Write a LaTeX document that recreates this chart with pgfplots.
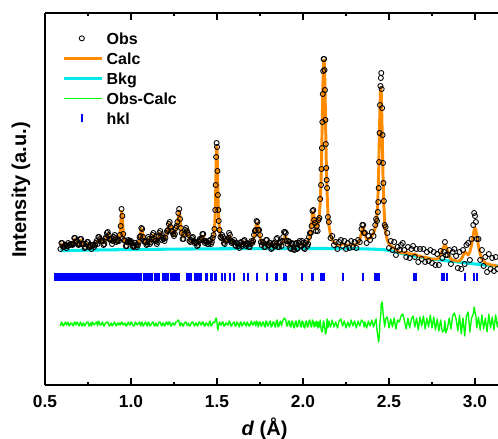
\documentclass[border=0pt]{standalone}
\usepackage{pgfplots}
\usepackage{pgfplotstable}
\pgfplotsset{compat=1.18}
\usepackage{fontspec}
\setmainfont{Liberation Sans}

\definecolor{calcorange}{RGB}{255,140,0}
\definecolor{bkgcyan}{RGB}{0,235,235}
\definecolor{diffgreen}{RGB}{0,255,0}
\definecolor{hklblue}{RGB}{0,0,255}

% Rietveld refinement: observed, calculated and difference (offset) profiles
\pgfplotstableread{
d obs calc diff
0.59 136 138 59
0.595 142 140 63
0.60 142 141 62
0.605 138 140 59
0.61 138 139 60
0.615 139 138 62
0.62 140 138 63
0.625 137 138 60
0.63 139 139 61
0.635 142 140 63
0.64 140 142 59
0.645 140 141 60
0.65 141 140 62
0.655 141 140 62
0.66 140 141 60
0.665 141 143 59
0.67 147 145 63
0.675 147 146 62
0.68 143 144 60
0.685 144 142 63
0.69 141 140 62
0.695 140 141 60
0.70 141 143 59
0.705 146 144 63
0.71 146 145 62
0.715 141 143 59
0.72 141 141 61
0.725 141 140 62
0.73 137 139 59
0.735 138 139 60
0.74 141 140 62
0.745 143 141 63
0.75 143 141 63
0.755 138 140 59
0.76 138 139 60
0.765 139 138 62
0.77 136 138 59
0.775 140 138 63
0.78 140 139 62
0.785 138 139 60
0.79 140 140 61
0.795 142 141 62
0.80 144 142 63
0.805 141 143 59
0.81 148 145 64
0.815 148 146 63
0.82 146 147 60
0.825 144 145 60
0.83 144 143 62
0.835 144 142 63
0.84 140 142 59
0.845 141 143 59
0.85 146 145 62
0.855 148 147 62
0.86 152 150 63
0.865 153 151 63
0.87 150 151 60
0.875 146 148 59
0.88 145 145 61
0.885 145 144 62
0.89 141 143 59
0.895 144 145 60
0.90 148 147 62
0.905 150 148 63
0.91 147 148 60
0.915 143 145 59
0.92 144 143 62
0.925 145 144 62
0.93 144 145 60
0.935 150 149 62
0.94 159 160 60
0.945 176 174 63
0.95 169 168 62
0.955 151 152 60
0.96 145 145 61
0.965 144 143 62
0.97 139 141 59
0.975 139 141 59
0.98 143 142 62
0.985 145 143 63
0.99 144 145 60
0.995 143 144 60
1.00 144 142 63
1.005 142 141 62
1.01 139 140 60
1.015 138 140 59
1.02 139 141 59
1.025 142 140 63
1.03 140 139 62
1.035 138 139 60
1.04 140 140 61
1.045 143 142 62
1.05 148 146 63
1.055 149 151 59
1.06 157 156 62
1.065 156 154 63
1.07 148 150 59
1.075 144 145 60
1.08 143 142 62
1.085 143 141 63
1.09 140 141 60
1.095 141 143 59
1.10 148 146 63
1.105 146 145 62
1.11 141 143 59
1.115 143 144 60
1.12 146 146 61
1.125 150 148 63
1.13 152 150 63
1.135 146 148 59
1.14 144 145 60
1.145 144 143 62
1.15 141 143 59
1.155 143 145 59
1.16 149 148 62
1.165 152 150 63
1.17 154 152 63
1.175 149 150 60
1.18 145 147 59
1.185 147 146 62
1.19 146 145 62
1.195 144 146 59
1.20 147 148 60
1.205 152 150 63
1.21 154 153 62
1.215 155 156 60
1.22 161 159 63
1.225 163 161 63
1.23 158 160 59
1.235 154 156 59
1.24 153 152 62
1.245 151 150 62
1.25 149 150 60
1.255 151 152 60
1.26 157 155 63
1.265 159 157 63
1.27 163 160 64
1.275 172 168 65
1.28 176 174 63
1.285 166 168 59
1.29 157 156 62
1.295 152 151 62
1.30 146 148 59
1.305 146 148 59
1.31 151 150 62
1.315 155 153 63
1.32 157 155 63
1.325 154 155 60
1.33 152 153 60
1.335 150 149 62
1.34 144 146 59
1.345 143 145 59
1.35 145 144 62
1.355 147 145 63
1.36 148 146 63
1.365 144 145 60
1.37 142 144 59
1.375 143 142 62
1.38 142 141 62
1.385 139 141 59
1.39 140 141 60
1.395 144 142 63
1.40 146 144 63
1.405 145 146 60
1.41 147 148 60
1.415 151 149 63
1.42 151 149 63
1.425 144 146 59
1.43 142 144 59
1.435 144 143 62
1.44 143 142 62
1.445 141 142 60
1.45 141 143 59
1.455 144 142 63
1.46 145 142 64
1.465 141 143 59
1.47 143 144 60
1.475 147 146 62
1.48 150 148 63
1.485 156 155 62
1.49 175 172 64
1.4925 200 195 66
1.495 228 222 67
1.4975 242 238 65
1.50 238 236 63
1.5025 214 218 57
1.505 190 196 55
1.5075 175 178 58
1.51 164 165 60
1.515 155 153 63
1.52 148 149 60
1.525 147 148 60
1.53 150 148 63
1.535 148 146 63
1.54 142 144 59
1.545 141 143 59
1.55 144 143 62
1.555 145 144 62
1.56 145 146 60
1.565 147 148 60
1.57 152 149 64
1.575 150 148 63
1.58 144 146 59
1.585 142 144 59
1.59 143 142 62
1.595 143 142 62
1.60 145 143 63
1.605 140 142 59
1.61 139 141 59
1.615 142 140 63
1.62 141 140 62
1.625 139 140 60
1.63 137 140 58
1.635 142 140 63
1.64 143 141 63
1.645 139 141 59
1.65 141 142 60
1.655 144 143 62
1.66 145 143 63
1.665 141 142 60
1.67 139 141 59
1.675 142 140 63
1.68 141 140 62
1.685 138 140 59
1.69 138 140 59
1.695 141 140 62
1.70 144 141 64
1.705 142 143 60
1.71 144 145 60
1.715 150 148 63
1.72 154 152 63
1.725 155 157 59
1.73 164 161 64
1.735 163 162 62
1.74 155 158 58
1.745 155 153 63
1.75 150 148 63
1.755 143 145 59
1.76 140 142 59
1.765 143 141 63
1.77 142 140 63
1.775 138 140 59
1.78 138 141 58
1.785 145 142 64
1.79 145 143 63
1.795 140 142 59
1.80 140 141 60
1.805 142 140 63
1.81 142 139 64
1.815 136 139 58
1.82 137 139 59
1.825 141 139 63
1.83 142 140 63
1.835 139 141 59
1.84 139 142 58
1.845 146 143 64
1.85 147 143 65
1.855 138 141 58
1.86 138 140 59
1.865 142 140 63
1.87 143 140 64
1.875 139 141 59
1.88 144 142 63
1.885 148 144 65
1.89 153 147 67
1.895 153 148 66
1.90 152 148 65
1.905 144 146 59
1.91 141 143 59
1.915 144 141 64
1.92 143 140 64
1.925 137 139 59
1.93 136 139 58
1.935 142 139 64
1.94 141 139 63
1.945 136 139 58
1.95 135 139 57
1.955 141 139 63
1.96 142 139 64
1.965 136 139 58
1.97 137 139 59
1.975 142 139 64
1.98 144 140 65
1.985 139 141 59
1.99 139 142 58
1.995 144 141 64
2.00 142 140 63
2.005 137 140 58
2.01 136 140 57
2.015 142 140 63
2.02 144 141 64
2.025 139 142 58
2.03 141 143 59
2.035 148 145 64
2.04 152 148 65
2.045 152 154 59
2.05 159 162 58
2.055 174 170 65
2.06 175 173 63
2.065 165 168 58
2.07 162 160 63
2.075 154 156 59
2.08 159 156 64
2.085 154 158 57
2.09 165 163 63
2.095 167 170 58
2.10 186 182 65
2.105 200 205 56
2.1075 216 222 55
2.11 237 245 53
2.1125 263 270 54
2.115 291 295 57
2.1175 314 312 63
2.12 326 323 64
2.1225 326 325 62
2.125 315 318 58
2.1275 295 300 56
2.13 265 275 51
2.1325 241 250 52
2.135 217 225 53
2.1375 205 207 59
2.14 197 192 66
2.145 168 172 57
2.15 163 160 64
2.16 147 150 58
2.17 149 145 65
2.18 140 143 58
2.19 143 141 63
2.20 136 140 57
2.21 143 140 64
2.22 145 140 66
2.23 139 141 59
2.24 144 141 64
2.25 136 140 57
2.26 142 140 63
2.27 137 140 58
2.28 144 140 65
2.29 138 140 59
2.30 143 140 64
2.31 137 141 57
2.32 145 142 64
2.33 143 145 59
2.34 156 152 65
2.345 160 157 64
2.35 160 158 63
2.355 152 155 58
2.36 152 150 63
2.37 142 146 57
2.38 149 146 64
2.39 145 147 59
2.40 153 149 65
2.41 149 152 58
2.42 160 157 64
2.425 166 161 66
2.43 164 170 55
2.435 173 185 49
2.4375 183 198 46
2.44 197 215 43
2.4425 223 237 47
2.445 252 260 53
2.4475 280 278 63
2.45 299 293 67
2.4525 307 297 71
2.455 312 292 81
2.4575 296 275 82
2.46 277 255 83
2.4625 250 232 79
2.465 222 210 73
2.4675 202 194 69
2.47 184 180 65
2.475 160 163 58
2.48 158 153 66
2.49 152 145 68
2.50 137 141 57
2.51 144 139 66
2.52 135 138 58
2.53 143 137 67
2.54 130 135 56
2.55 138 134 65
2.56 135 133 63
2.57 140 132 69
2.58 142 132 71
2.59 135 132 64
2.60 128 133 56
2.61 138 132 67
2.62 127 131 57
2.63 136 131 66
2.64 139 131 69
2.65 128 131 58
2.66 136 130 67
2.67 123 129 55
2.68 136 129 68
2.69 126 128 59
2.70 136 128 69
2.71 123 128 56
2.72 133 127 67
2.73 124 127 58
2.74 135 126 70
2.75 122 126 57
2.76 133 126 68
2.77 120 126 55
2.78 131 126 66
2.79 120 127 54
2.80 134 130 65
2.81 127 135 53
2.82 133 139 55
2.825 143 140 64
2.83 130 139 52
2.84 130 134 57
2.85 135 129 67
2.86 121 126 56
2.87 133 125 69
2.88 136 125 72
2.89 129 124 66
2.90 117 124 54
2.91 133 124 70
2.92 116 126 51
2.93 135 129 67
2.94 121 133 49
2.95 140 132 69
2.96 142 130 73
2.97 125 133 53
2.98 146 140 67
2.99 160 150 71
2.995 172 155 78
3.00 169 157 73
3.005 163 155 69
3.01 146 150 57
3.02 146 139 68
3.03 125 131 55
3.04 135 126 70
3.05 119 124 56
3.06 128 122 67
3.07 113 121 53
3.08 131 121 71
3.09 116 120 57
3.10 127 120 68
3.11 114 120 55
3.12 128 119 70
3.13 116 119 58
3.14 124 119 66
}\pattern

% refined background
\pgfplotstableread{
d bkg
0.59 134.3
0.80 135.0
1.20 135.8
1.60 136.3
2.00 136.5
2.30 136.3
2.45 135.5
2.50 134.5
2.55 132.5
2.60 130.5
2.65 129.0
2.70 127.5
2.75 126.0
2.80 125.0
2.85 124.0
2.90 123.0
2.95 122.0
3.00 121.0
3.05 120.2
3.10 119.5
3.14 119.0
}\background

% Bragg reflection positions (tick row)
\pgfplotstableread{
d pos
0.558 108
0.565 108
0.572 108
0.579 108
0.586 108
0.593 108
0.600 108
0.607 108
0.614 108
0.621 108
0.628 108
0.635 108
0.642 108
0.649 108
0.656 108
0.663 108
0.670 108
0.677 108
0.684 108
0.691 108
0.698 108
0.705 108
0.712 108
0.719 108
0.726 108
0.733 108
0.740 108
0.747 108
0.754 108
0.761 108
0.768 108
0.775 108
0.782 108
0.789 108
0.796 108
0.803 108
0.810 108
0.817 108
0.824 108
0.831 108
0.838 108
0.845 108
0.852 108
0.859 108
0.866 108
0.873 108
0.880 108
0.887 108
0.894 108
0.901 108
0.908 108
0.915 108
0.922 108
0.929 108
0.936 108
0.943 108
0.950 108
0.957 108
0.964 108
0.971 108
0.978 108
0.985 108
0.992 108
0.999 108
1.006 108
1.013 108
1.020 108
1.027 108
1.034 108
1.041 108
1.048 108
1.055 108
1.061 108
1.078 108
1.085 108
1.092 108
1.099 108
1.106 108
1.113 108
1.120 108
1.138 108
1.145 108
1.152 108
1.159 108
1.166 108
1.185 108
1.192 108
1.199 108
1.206 108
1.213 108
1.232 108
1.239 108
1.246 108
1.253 108
1.260 108
1.267 108
1.274 108
1.281 108
1.324 108
1.331 108
1.338 108
1.345 108
1.352 108
1.372 108
1.379 108
1.386 108
1.395 108
1.402 108
1.409 108
1.438 108
1.444 108
1.463 108
1.470 108
1.490 108
1.497 108
1.527 108
1.547 108
1.576 108
1.599 108
1.657 108
1.682 108
1.731 108
1.790 108
1.843 108
1.850 108
1.889 108
1.901 108
1.992 108
2.050 108
2.058 108
2.103 108
2.114 108
2.122 108
2.234 108
2.347 108
2.420 108
2.428 108
2.436 108
2.444 108
2.645 108
2.658 108
2.810 108
2.822 108
2.836 108
2.942 108
2.995 108
3.010 108
}\reflections

\begin{document}
\begin{tikzpicture}
\begin{axis}[
  name=ax,
  scale only axis,
  width=339.75pt, height=279pt,
  xmin=0.5, xmax=3.1337, ymin=0, ymax=372,
  axis x line*=box, axis y line*=left,
  axis line style={-, line width=0.9pt, black},
  xtick={0.5,1.0,1.5,2.0,2.5,3.0},
  minor x tick num=1,
  ytick=\empty,
  tick align=inside,
  major tick length=5.25pt, minor tick length=2.6pt,
  tick style={black, line width=0.8pt},
  /pgf/number format/fixed,
  /pgf/number format/fixed zerofill,
  /pgf/number format/precision=1,
  /pgf/number format/assume math mode=true,
  xticklabel style={font=\fontsize{13}{13}\selectfont\bfseries, yshift=-4.5pt},
  xlabel={\textbf{\textit{d}} \textbf{(Å)}},
  xlabel style={font=\fontsize{15}{15}\selectfont\bfseries,
    at={(axis description cs:0.4845,0)}, anchor=center, yshift=-32.6pt},
  ylabel={Intensity (a.u.)},
  ylabel style={font=\fontsize{15}{15}\selectfont\bfseries,
    at={(axis description cs:-0.053,0.524)}, anchor=center},
  legend cell align=left,
  legend style={at={(axis description cs:0.0383,0.9473)}, anchor=north west,
    draw=none, fill=none, inner sep=0pt, outer sep=0pt,
    row sep=6.4pt, column sep=2.7pt,
    nodes={inner sep=0pt, text height=8.6pt, text depth=0pt,
      font=\fontsize{12}{12}\selectfont\bfseries}},
]
\addplot[only marks, mark=o, mark size=1.9pt, black,
  mark options={line width=0.65pt}, forget plot]
  table[x=d, y=obs] {\pattern};
\addplot[bkgcyan, line width=2.3pt, smooth, forget plot]
  table[x=d, y=bkg] {\background};
\addplot[calcorange, line width=2.2pt, line join=round, forget plot]
  table[x=d, y=calc] {\pattern};
\addplot[diffgreen, line width=1pt, line join=round, forget plot]
  table[x=d, y=diff] {\pattern};
\addplot[hklblue, only marks, mark=|, mark size=3pt,
  mark options={line width=1.4pt}, forget plot]
  table[x=d, y=pos] {\reflections};

\addlegendimage{legend image code/.code={
  \path[draw=none, fill=none] (0pt,-4.3pt) rectangle (28.3pt,4.3pt);
  \draw[black, fill=none, line width=0.65pt] (13.5pt,0pt) circle (1.9pt);}}
\addlegendentry{Obs}
\addlegendimage{legend image code/.code={
  \path[draw=none, fill=none] (0pt,-4.3pt) rectangle (28.3pt,4.3pt);
  \draw[calcorange, line width=1.8pt] (0pt,0pt) -- (28.3pt,0pt);}}
\addlegendentry{Calc}
\addlegendimage{legend image code/.code={
  \path[draw=none, fill=none] (0pt,-4.3pt) rectangle (28.3pt,4.3pt);
  \draw[bkgcyan, line width=2.2pt] (0pt,0pt) -- (28.3pt,0pt);}}
\addlegendentry{Bkg}
\addlegendimage{legend image code/.code={
  \path[draw=none, fill=none] (0pt,-4.3pt) rectangle (28.3pt,4.3pt);
  \draw[diffgreen, line width=1.2pt] (0pt,0pt) -- (28.3pt,0pt);}}
\addlegendentry{Obs-Calc}
\addlegendimage{legend image code/.code={
  \path[draw=none, fill=none] (0pt,-4.3pt) rectangle (28.3pt,4.3pt);
  \draw[hklblue, line width=1.4pt] (13.5pt,-3pt) -- (13.5pt,3pt);}}
\addlegendentry{hkl}
\end{axis}
\pgfresetboundingbox
\path ([shift={(-33.75pt,-39.75pt)}]ax.south west)
  rectangle ([shift={(0pt,9.75pt)}]ax.north east);
\end{tikzpicture}
\end{document}
